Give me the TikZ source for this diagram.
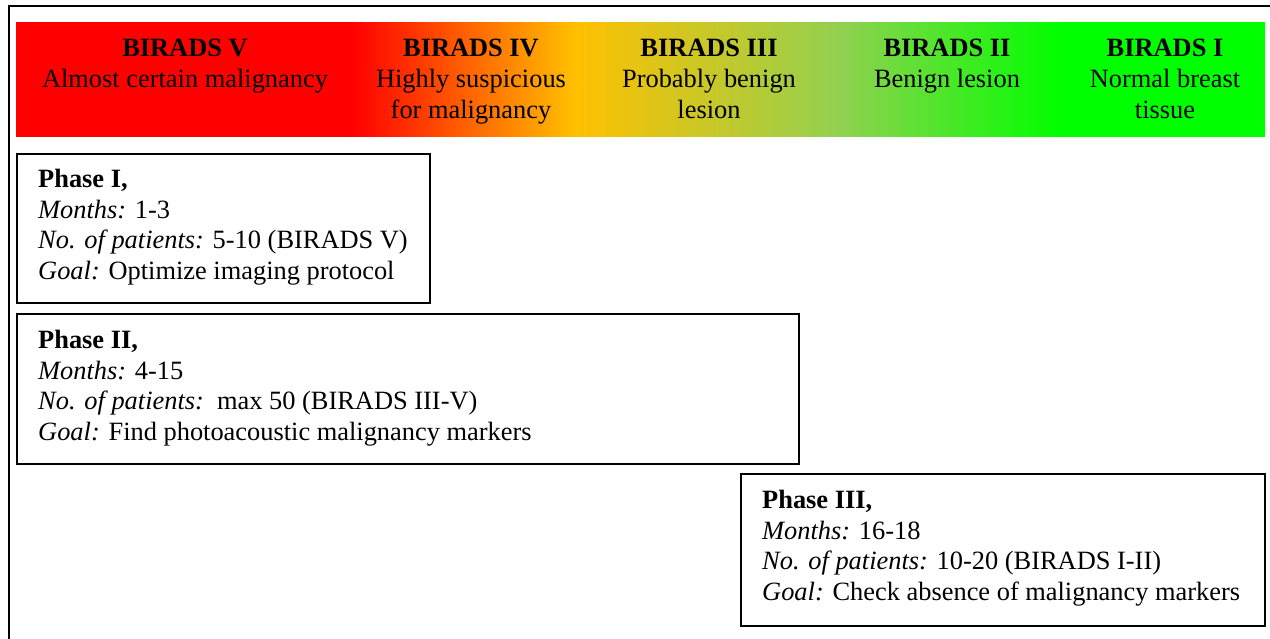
\documentclass[tikz,border=0pt]{standalone}
\usepackage{fontspec}
\setmainfont{Liberation Serif}
\definecolor{gold}{HTML}{FFC000}
\definecolor{lgreen}{HTML}{92D050}
\definecolor{bgreen}{HTML}{00FF00}
\definecolor{bred}{HTML}{FF0000}
\begin{document}
\begin{tikzpicture}[x=1pt,y=-1pt,
  phasebox/.style={draw=black, line width=1.5pt, inner sep=0pt, anchor=north west},
  phasetext/.style={anchor=north west, inner sep=0pt, align=left, font=\fontsize{26.4}{30.6}\selectfont},
  birads/.style={anchor=north, inner sep=0pt, align=center, font=\fontsize{26.4}{31}\selectfont}]
\useasboundingbox (0,0) rectangle (1270,638);
\fill[white] (0,0) rectangle (1270,638);
% outer frame (partly visible)
\draw[line width=2pt] (9,640) -- (9,6) -- (1272,6);
% gradient bar
\begin{scope}
\clip (16,22) rectangle (1265,136);
\fill[bred] (10,10) rectangle (353,150);
\shade[left color=bred, right color=gold] (352,10) rectangle (576,150);
\shade[left color=gold, right color=lgreen] (575,10) rectangle (841,150);
\shade[left color=lgreen, right color=bgreen] (840,10) rectangle (1061,150);
\fill[bgreen] (1060,10) rectangle (1270,150);
\end{scope}
% BIRADS labels
\node[birads] (b5) at (185,39) {\textbf{BIRADS V}\\Almost certain malignancy};
\node[birads] (b4) at (471,39) {\textbf{BIRADS IV}\\Highly suspicious\\for malignancy};
\node[birads] (b3) at (709,39) {\textbf{BIRADS III}\\Probably benign\\lesion};
\node[birads] (b2) at (947,39) {\textbf{BIRADS II}\\Benign lesion};
\node[birads] (b1) at (1165,39) {\textbf{BIRADS I}\\Normal breast\\tissue};
% phase boxes
\node[phasebox, minimum width=413pt, minimum height=149pt] (p1) at (16,153) {};
\node[phasebox, minimum width=782pt, minimum height=150pt] (p2) at (16,313) {};
\node[phasebox, minimum width=524pt, minimum height=152pt] (p3) at (740,473) {};
% phase texts
\node[phasetext] (t1) at (38,169) {\textbf{Phase I,}\\\textit{Months:} 1-3\\\textit{No. of patients:} 5-10 (BIRADS V)\\\textit{Goal:} Optimize imaging protocol};
\node[phasetext] (t2) at (38,330) {\textbf{Phase II,}\\\textit{Months:} 4-15\\\textit{No. of patients:}\ \ max 50 (BIRADS III-V)\\\textit{Goal:} Find photoacoustic malignancy markers};
\node[phasetext] (t3) at (762,490) {\textbf{Phase III,}\\\textit{Months:} 16-18\\\textit{No. of patients:} 10-20 (BIRADS I-II)\\\textit{Goal:} Check absence of malignancy markers};
\end{tikzpicture}
\end{document}
